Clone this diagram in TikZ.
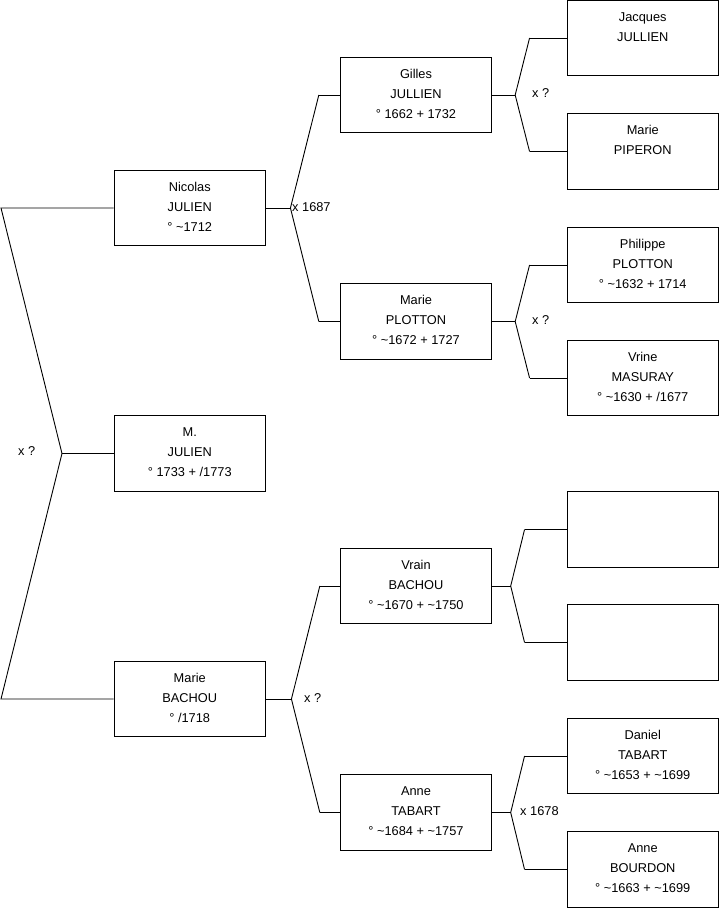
\documentclass[tikz,border=0pt]{standalone}
\usepackage{fontspec}
\setmainfont{Liberation Sans}
\usetikzlibrary{positioning}

\tikzset{
  person/.style={draw, line width=0.9pt, inner sep=0pt, minimum width=151.5pt, minimum height=75.6pt},
  link/.style={line width=0.9pt},
  wed/.style={anchor=west, inner sep=0pt}
}
\newcommand{\fiche}[1]{\parbox[c][75.6pt][t]{151.5pt}{\centering\rule{0pt}{20.8pt}#1}}
\newcommand{\env}{\textasciitilde}

\begin{document}
\begin{tikzpicture}[x=1pt, y=-1pt, font=\fontsize{12.8pt}{20pt}\selectfont]
\useasboundingbox (0,0) rectangle (719,908);

\node[person] (nicolas) at (189.75,208) {\fiche{Nicolas\\JULIEN\\° \env1712}};
\node[person] (mjulien) at (189.75,453.5) {\fiche{M.\\JULIEN\\° 1733 + /1773}};
\node[person] (mbachou) at (189.75,699) {\fiche{Marie\\BACHOU\\° /1718}};

\node[person] (gilles) at (416,95) {\fiche{Gilles\\JULLIEN\\° 1662 + 1732}};
\node[person] (mplotton) at (416,321.5) {\fiche{Marie\\PLOTTON\\° \env1672 + 1727}};
\node[person] (vbachou) at (416,586) {\fiche{Vrain\\BACHOU\\° \env1670 + \env1750}};
\node[person] (atabart) at (416,812.5) {\fiche{Anne\\TABART\\° \env1684 + \env1757}};

\node[person] (jacques) at (642.75,38) {\fiche{Jacques\\JULLIEN}};
\node[person] (piperon) at (642.75,151.5) {\fiche{Marie\\PIPERON}};
\node[person] (philippe) at (642.75,265) {\fiche{Philippe\\PLOTTON\\° \env1632 + 1714}};
\node[person] (masuray) at (642.75,378) {\fiche{Vrine\\MASURAY\\° \env1630 + /1677}};
\node[person] (inconnu1) at (642.75,529.5) {};
\node[person] (inconnu2) at (642.75,642.5) {};
\node[person] (daniel) at (642.75,756) {\fiche{Daniel\\TABART\\° \env1653 + \env1699}};
\node[person] (bourdon) at (642.75,869.5) {\fiche{Anne\\BOURDON\\° \env1663 + \env1699}};

\coordinate (lt) at (1,208);
\coordinate (lb) at (1,699);
\coordinate (lf) at (62,453.5);
\draw[link] (nicolas.west) -- (lt) -- (lf) -- (lb) -- (mbachou.west);
\draw[link] (lf) -- (mjulien.west);
\node[wed] (x0) at (18,451) {x ?};

\draw[link] (nicolas.east) -- ++(24.5,0) coordinate (fn);
\draw[link] ([xshift=-21pt]gilles.west) -- (fn) -- ([xshift=-21pt]mplotton.west);
\draw[link] ([xshift=-21pt]gilles.west) -- (gilles.west);
\draw[link] ([xshift=-21pt]mplotton.west) -- (mplotton.west);
\node[wed] (x1) at (292,207.5) {x 1687};

\draw[link] (mbachou.east) -- ++(25.5,0) coordinate (fb);
\draw[link] ([xshift=-20pt]vbachou.west) -- (fb) -- ([xshift=-20pt]atabart.west);
\draw[link] ([xshift=-20pt]vbachou.west) -- (vbachou.west);
\draw[link] ([xshift=-20pt]atabart.west) -- (atabart.west);
\node[wed] (x2) at (304,698) {x ?};

\draw[link] (gilles.east) -- ++(23,0) coordinate (fg);
\draw[link] ([xshift=-37pt]jacques.west) -- (fg) -- ([xshift=-37pt]piperon.west);
\draw[link] ([xshift=-37pt]jacques.west) -- (jacques.west);
\draw[link] ([xshift=-37pt]piperon.west) -- (piperon.west);
\node[wed] (x3) at (532,93) {x ?};

\draw[link] (mplotton.east) -- ++(23,0) coordinate (fp);
\draw[link] ([xshift=-37pt]philippe.west) -- (fp) -- ([xshift=-37pt]masuray.west);
\draw[link] ([xshift=-37pt]philippe.west) -- (philippe.west);
\draw[link] ([xshift=-37pt]masuray.west) -- (masuray.west);
\node[wed] (x4) at (532,320) {x ?};

\draw[link] (vbachou.east) -- ++(18.5,0) coordinate (fv);
\draw[link] ([xshift=-42pt]inconnu1.west) -- (fv) -- ([xshift=-42pt]inconnu2.west);
\draw[link] ([xshift=-42pt]inconnu1.west) -- (inconnu1.west);
\draw[link] ([xshift=-42pt]inconnu2.west) -- (inconnu2.west);

\draw[link] (atabart.east) -- ++(18.5,0) coordinate (ft);
\draw[link] ([xshift=-42pt]daniel.west) -- (ft) -- ([xshift=-42pt]bourdon.west);
\draw[link] ([xshift=-42pt]daniel.west) -- (daniel.west);
\draw[link] ([xshift=-42pt]bourdon.west) -- (bourdon.west);
\node[wed] (x5) at (520,811) {x 1678};
\end{tikzpicture}
\end{document}
